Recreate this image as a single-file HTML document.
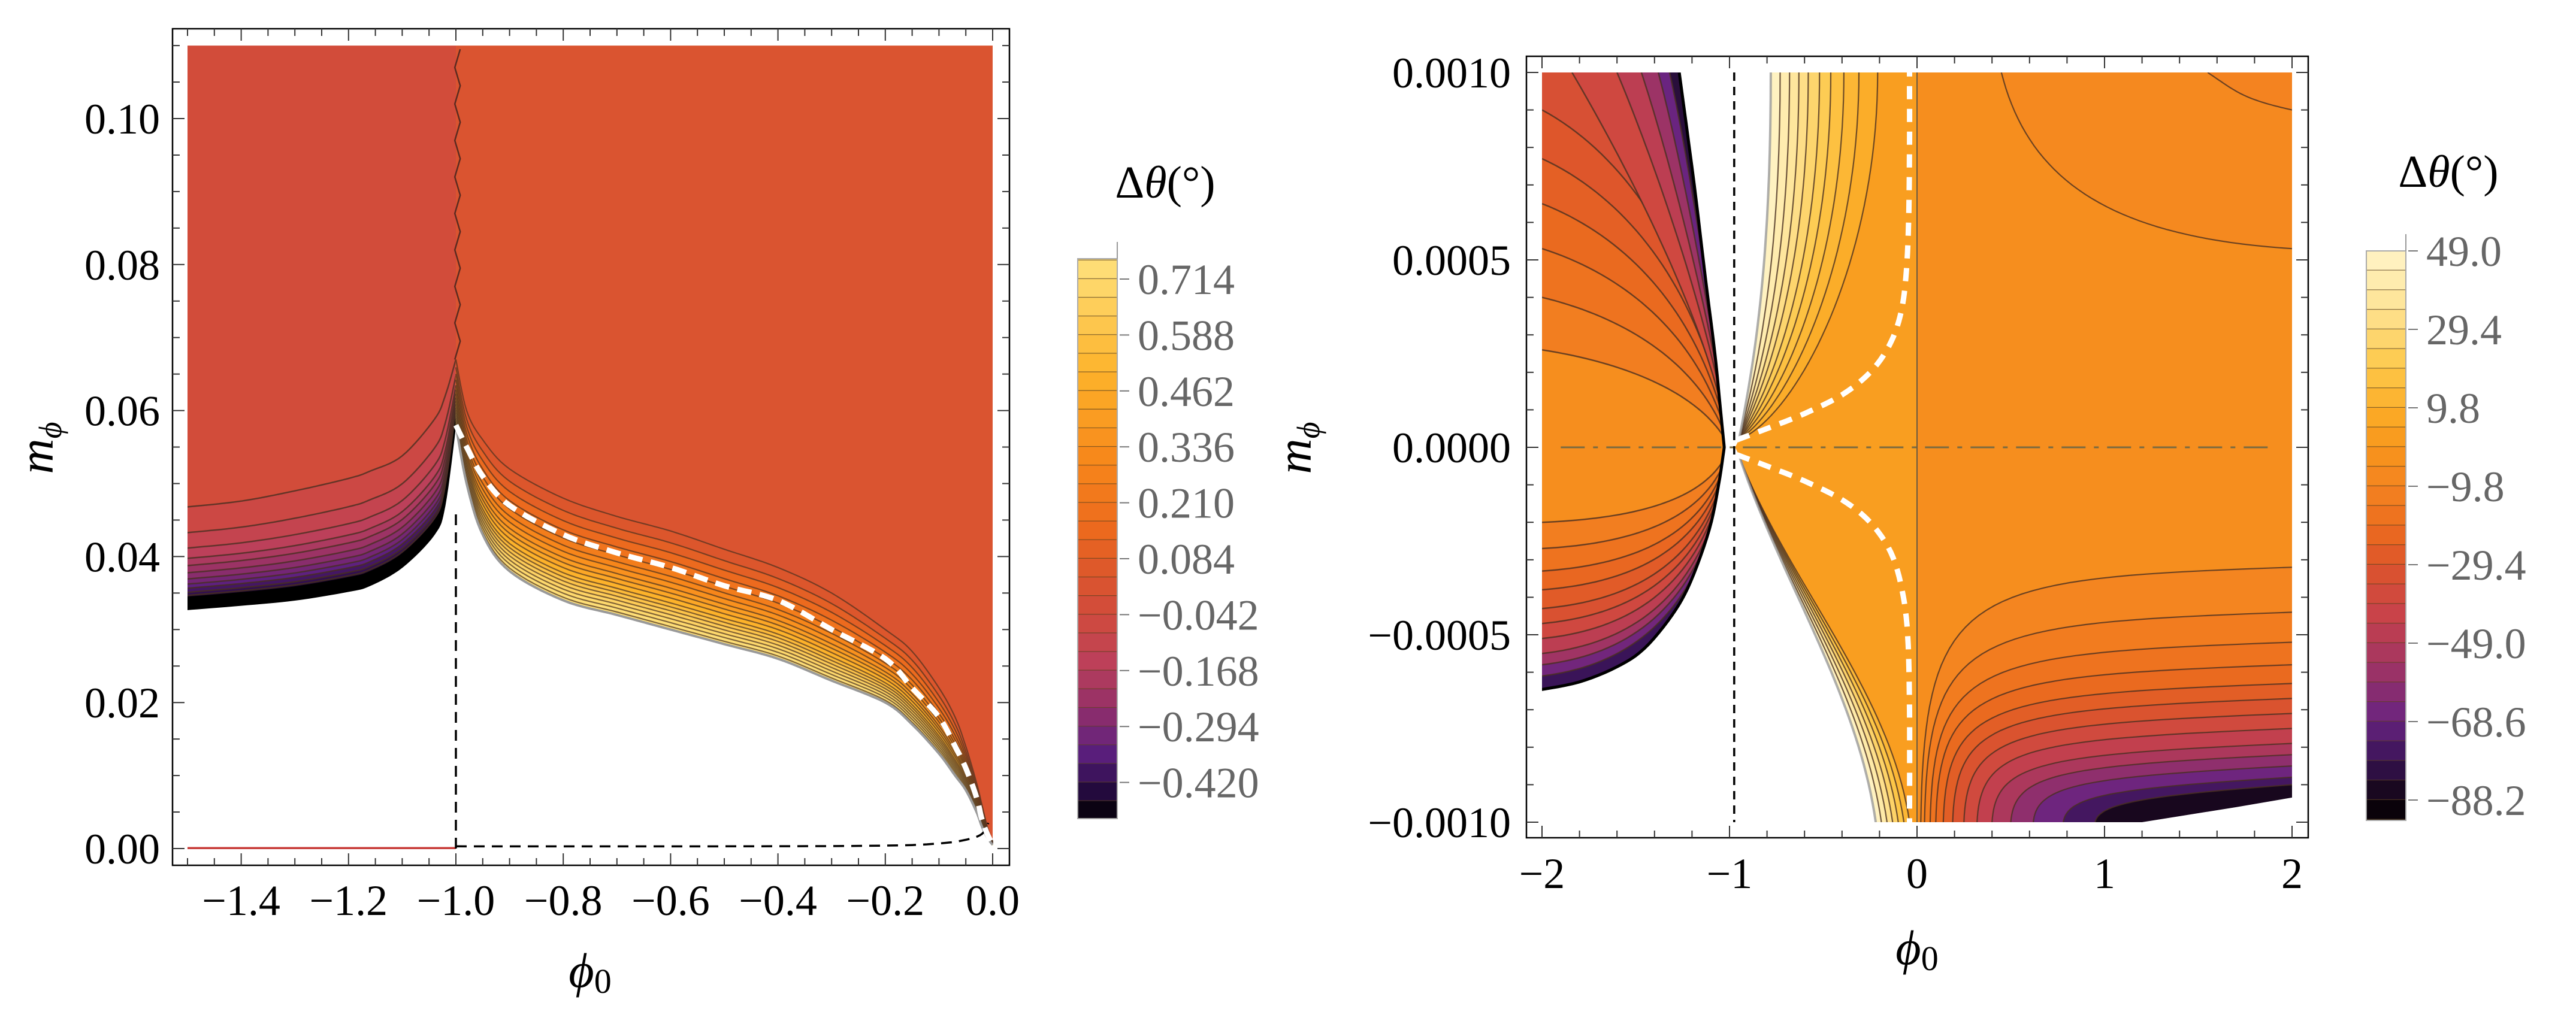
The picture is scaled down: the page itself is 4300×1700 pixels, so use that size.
<!DOCTYPE html>
<html>
<head>
<meta charset="utf-8">
<style>
html,body{margin:0;padding:0;background:#fff;}
svg{display:block;}
text{font-family:"Liberation Serif",serif;}
</style>
</head>
<body>
<svg id="chart" xmlns="http://www.w3.org/2000/svg" width="4300" height="1700" viewBox="0 0 4300 1700">
<defs>
<clipPath id="clipL"><rect x="313" y="76" width="1345" height="1342"/></clipPath>
<clipPath id="clipR"><rect x="2574" y="121" width="1252" height="1252"/></clipPath>
</defs>
</svg>
<script>
// ---------------- LEFT PANEL DATA ----------------
const L_leftX   = [-1.5,-1.4,-1.3,-1.2,-1.16,-1.1,-1.04,-1.02,-1.0];
const L_leftTop = [0.0468,0.0476,0.049,0.0507,0.0517,0.0538,0.0588,0.062,0.067];
const L_leftBot = [0.0327,0.0333,0.034,0.0352,0.036,0.0385,0.043,0.047,0.058];
const L_leftFrac = [0,0.25,0.40,0.50,0.57,0.64,0.70,0.75,0.79,0.83,0.86,0.875,1];
const L_leftVals = [-0.07,-0.11,-0.15,-0.19,-0.23,-0.27,-0.31,-0.35,-0.39,-0.42,-0.45,-0.6];
const L_rightX   = [-1.0,-0.98,-0.95,-0.9,-0.8,-0.7,-0.6,-0.5,-0.4,-0.3,-0.2,-0.15,-0.1,-0.07,-0.05,-0.03,-0.02,-0.01,0];
const L_rightTop = [0.067,0.060,0.056,0.052,0.048,0.0455,0.0435,0.041,0.0385,0.035,0.030,0.027,0.022,0.018,0.014,0.009,0.006,0.003,0.001];
const L_rightBot = [0.058,0.050,0.043,0.038,0.034,0.032,0.030,0.028,0.026,0.023,0.020,0.017,0.013,0.010,0.008,0.005,0.003,0.0015,0.0005];
const L_whiteDash= [0.058,0.055,0.051,0.047,0.043,0.0405,0.0385,0.036,0.034,0.030,0.026,0.022,0.018,0.014,0.011,0.007,0.004,0.002,0.0005];
const L_rightFrac = [0,0.12,0.22,0.31,0.39,0.46,0.52,0.58,0.63,0.68,0.73,0.77,0.81,0.85,0.89,0.93,0.97,1];
const L_rightVals = [0.05,0.10,0.15,0.20,0.25,0.30,0.35,0.40,0.45,0.50,0.55,0.60,0.64,0.68,0.71,0.74,0.76];
const L_bgLeftVal = -0.03, L_bgRightVal = 0.03;
const L_xTicks = [-1.4,-1.2,-1.0,-0.8,-0.6,-0.4,-0.2,0.0];
const L_xTickLabels = ["\u22121.4","\u22121.2","\u22121.0","\u22120.8","\u22120.6","\u22120.4","\u22120.2","0.0"];
const L_yTicks = [0,0.02,0.04,0.06,0.08,0.10];
const L_yTickLabels = ["0.00","0.02","0.04","0.06","0.08","0.10"];
const L_cbVals = [0.714,0.588,0.462,0.336,0.210,0.084,-0.042,-0.168,-0.294,-0.420];
const L_cbLabels = ["0.714","0.588","0.462","0.336","0.210","0.084","\u22120.042","\u22120.168","\u22120.294","\u22120.420"];

// ---------------- RIGHT PANEL DATA ----------------
const R_ulStartY = [0.00026,0.0004,0.00053,0.00065,0.00077,0.0009];
const R_ulStartTopX = [-1.84,-1.6,-1.47,-1.38,-1.32];
const R_ulVals = [-12,-17,-21,-25,-29,-33,-38,-46,-56,-68,-82];
const R_ulBoundX = [-1.26,-1.18,-1.12,-1.07,-1.04,-1.02];
const R_ulBoundY = [0.001,0.0007,0.00045,0.00025,0.0001,0.0];
const R_llStartY = [-0.0002,-0.00027,-0.00033,-0.00038,-0.00043,-0.00047,-0.00051,-0.00055,-0.00058,-0.00061];
const R_llVals = [-12,-17,-22,-27,-32,-38,-46,-55,-66,-78];
const R_llBoundX = [-2,-1.8,-1.6,-1.45,-1.3,-1.2,-1.1,-1.05,-1.02];
const R_llBoundY = [-0.00065,-0.00063,-0.00059,-0.00054,-0.00045,-0.00036,-0.00022,-0.0001,0.0];
const R_umEndX = [-0.78,-0.73,-0.68,-0.63,-0.58,-0.52,-0.46,-0.39,-0.31,-0.21];
const R_umVals = [47,42,37,32,27,22,17,13,9,6];
const R_lmEndX = [-0.22,-0.19,-0.16,-0.13,-0.10,-0.07,-0.04];
const R_lmVals = [47,40,33,26,19,13,8];
const R_lrStartX = [0.02,0.04,0.07,0.1,0.14,0.19,0.25,0.32,0.4,0.5,0.62,0.78,0.95];
const R_lrEndY = [-0.00032,-0.00044,-0.00052,-0.00058,-0.00063,-0.00067,-0.00071,-0.00075,-0.00079,-0.00082,-0.00085,-0.00088,-0.0009];
const R_lrVals = [-9,-13,-17,-21,-26,-31,-37,-44,-51,-59,-67,-76,-86];
const R_urStartX = [0.45,1.55];
const R_urEndY = [0.00053,0.0009];
const R_urVals = [-7,-10];
const R_bgMidVal = 3, R_bgRightVal = -4;
const R_dashUpX = [-0.96,-0.8,-0.6,-0.4,-0.25,-0.15,-0.09,-0.06,-0.045,-0.04,-0.04];
const R_dashUpY = [0.00002,0.00005,0.00009,0.00014,0.0002,0.00027,0.00035,0.00045,0.0006,0.0008,0.001];
const R_dashLoX = [-0.96,-0.8,-0.6,-0.4,-0.25,-0.14,-0.08,-0.05,-0.04,-0.04];
const R_dashLoY = [-0.00002,-0.00005,-0.00009,-0.00014,-0.0002,-0.00028,-0.00038,-0.0005,-0.0007,-0.001];
const R_xTicks = [-2,-1,0,1,2];
const R_xTickLabels = ["\u22122","\u22121","0","1","2"];
const R_yTicks = [-0.001,-0.0005,0,0.0005,0.001];
const R_yTickLabels = ["\u22120.0010","\u22120.0005","0.0000","0.0005","0.0010"];
const R_cbVals = [49.0,29.4,9.8,-9.8,-29.4,-49.0,-68.6,-88.2];
const R_cbLabels = ["49.0","29.4","9.8","\u22129.8","\u221229.4","\u221249.0","\u221268.6","\u221288.2"];

// ---------------- helpers ----------------
const NS = "http://www.w3.org/2000/svg";
const svg = document.getElementById('chart');
function add(tag, attrs, parent){
  const e = document.createElementNS(NS, tag);
  for (const k in attrs) e.setAttribute(k, attrs[k]);
  (parent || svg).appendChild(e);
  return e;
}
function hex2rgb(h){return [parseInt(h.slice(1,3),16),parseInt(h.slice(3,5),16),parseInt(h.slice(5,7),16)];}
function interpColor(stops, v){
  if (v >= stops[0][0]) return stops[0][1];
  for (let i=0;i<stops.length-1;i++){
    const a=stops[i], b=stops[i+1];
    if (v <= a[0] && v >= b[0]){
      const t=(a[0]-v)/(a[0]-b[0]);
      const ca=hex2rgb(a[1]), cb=hex2rgb(b[1]);
      return 'rgb('+ca.map((c,j)=>Math.round(c+(cb[j]-c)*t)).join(',')+')';
    }
  }
  return stops[stops.length-1][1];
}
const stopsL = [[0.75,'#fee07a'],[0.5,'#fdb22a'],[0.3,'#f7861a'],[0.15,'#ec6a1e'],[0.05,'#dc562c'],[-0.05,'#d04a3e'],[-0.15,'#bc405a'],[-0.25,'#943068'],[-0.35,'#5e2080'],[-0.43,'#2a0c48'],[-0.5,'#000000']];
const stopsR = [[49,'#fff4c8'],[35,'#fee496'],[20,'#fdc84a'],[8,'#fbaa26'],[0,'#f8961c'],[-10,'#f48320'],[-20,'#ec6c1e'],[-30,'#dc542c'],[-42,'#c8424a'],[-55,'#a03464'],[-68,'#6a2480'],[-78,'#3a1458'],[-88,'#100410'],[-95,'#000000']];
const cL = v => interpColor(stopsL, v);
const cR = v => interpColor(stopsR, v);

const lx = v => 1657 + v*896;
const ly = v => 1417 - v*12190;
const rx = v => 3200 + v*313;
const ry = v => 747 - v*626000;

function dPts(pts, sx, sy, close){
  let d = pts.map((p,i)=>(i?'L':'M')+sx(p[0]).toFixed(1)+' '+sy(p[1]).toFixed(1)).join(' ');
  return close ? d+' Z' : d;
}
function cubic(P0,P1,P2,P3,n){
  const out=[];
  for(let i=0;i<=n;i++){const t=i/n,u=1-t;
    out.push([u*u*u*P0[0]+3*u*u*t*P1[0]+3*u*t*t*P2[0]+t*t*t*P3[0],
              u*u*u*P0[1]+3*u*u*t*P1[1]+3*u*t*t*P2[1]+t*t*t*P3[1]]);}
  return out;
}
// Catmull-Rom smoothing of a polyline (data coords)
function smooth(pts, n){
  const out=[];
  for (let i=0;i<pts.length-1;i++){
    const p0=pts[Math.max(0,i-1)], p1=pts[i], p2=pts[i+1], p3=pts[Math.min(pts.length-1,i+2)];
    for (let j=0;j<n;j++){
      const t=j/n, t2=t*t, t3=t2*t;
      out.push([0,1].map(k=>0.5*((2*p1[k])+(-p0[k]+p2[k])*t+(2*p0[k]-5*p1[k]+4*p2[k]-p3[k])*t2+(-p0[k]+3*p1[k]-3*p2[k]+p3[k])*t3)));
    }
  }
  out.push(pts[pts.length-1]);
  return out;
}
function zipXY(xs, ys){return xs.map((x,i)=>[x,ys[i]]);}
const LINE = '#4a3020';

// ================= LEFT PANEL =================
const gL = add('g', {'clip-path':'url(#clipL)'});



{
  const pts = [[-1.5,0.11]].concat(smooth(zipXY(L_leftX, L_leftTop),8)).concat([[-1.0,0.11]]);
  const p = add('path', {d:dPts(pts,lx,ly,true), fill:cL(L_bgLeftVal)}, gL);
  
  
}
{
  const pts = [[-1.0,0.11]].concat(smooth(zipXY(L_rightX, L_rightTop),8)).concat([[0,0.11]]);
  const p = add('path', {d:dPts(pts,lx,ly,true), fill:cL(L_bgRightVal)}, gL);
  
  
}
function bandCurve(xs, top, bot, f){return smooth(xs.map((x,i)=>[x, top[i]+(bot[i]-top[i])*f]),8);}
for (let k=0;k<L_leftFrac.length-1;k++){
  const a = bandCurve(L_leftX, L_leftTop, L_leftBot, L_leftFrac[k]);
  const b = bandCurve(L_leftX, L_leftTop, L_leftBot, L_leftFrac[k+1]).reverse();
  const p = add('path', {d:dPts(a.concat(b),lx,ly,true), fill:cL(L_leftVals[k]), stroke:cL(L_leftVals[k]), 'stroke-width':1}, gL);
  
  
  if (k < L_leftFrac.length-2){
    const l = add('path', {d:dPts(a,lx,ly,false), fill:'none', stroke:LINE, 'stroke-width':2.5, 'stroke-opacity':0.8}, gL);
    
    
  }
}
for (let k=0;k<L_rightFrac.length-1;k++){
  const a = bandCurve(L_rightX, L_rightTop, L_rightBot, L_rightFrac[k]);
  const b = bandCurve(L_rightX, L_rightTop, L_rightBot, L_rightFrac[k+1]).reverse();
  const p = add('path', {d:dPts(a.concat(b),lx,ly,true), fill:cL(L_rightVals[k]), stroke:cL(L_rightVals[k]), 'stroke-width':1}, gL);
  
  
  const l = add('path', {d:dPts(a,lx,ly,false), fill:'none', stroke:LINE, 'stroke-width':2.2, 'stroke-opacity':0.7}, gL);
  
  
}
{
  const l = add('path', {d:dPts(smooth(zipXY(L_rightX,L_rightBot),8),lx,ly,false), fill:'none', stroke:'#9a9a9a', 'stroke-width':4}, gL);
  
  
}
{
  const pts=[]; let s=0;
  for (let y=0.067;y<=0.1105;y+=0.0025){ pts.push([-1.0 + (s%2?0.008:-0.002), y]); s++; }
  const l = add('path', {d:dPts(pts,lx,ly,false), fill:'none', stroke:'#5a2a20', 'stroke-width':2.5}, gL);
  
  
}
{
  const l = add('line', {x1:lx(-1.5), y1:ly(0), x2:lx(-1.0), y2:ly(0), stroke:'#c83c38', 'stroke-width':5}, gL);
  
  
}
{
  const pts=[[-1.0,0.0],[-1.0,0.046]];
  const l = add('path', {d:dPts(pts,lx,ly,false), fill:'none', stroke:'#000', 'stroke-width':3.5, 'stroke-dasharray':'18 12'}, gL);
  
  
  const pts2=smooth([[-1.0,0.0003],[-0.5,0.0003],[-0.2,0.0004],[-0.1,0.0007],[-0.05,0.0012],[-0.02,0.002],[-0.008,0.0035]],6);
  const l2 = add('path', {d:dPts(pts2,lx,ly,false), fill:'none', stroke:'#000', 'stroke-width':3.5, 'stroke-dasharray':'18 12'}, gL);
  
  
}
{
  const l = add('path', {d:dPts(smooth(zipXY(L_rightX,L_whiteDash),8),lx,ly,false), fill:'none', stroke:'#fff', 'stroke-width':9, 'stroke-dasharray':'24 14'}, gL);
  
  
}

function frame(x0,y0,x1,y1,name){
  const r = add('rect',{x:x0,y:y0,width:x1-x0,height:y1-y0,fill:'none',stroke:'#000','stroke-width':2.5});
  
  
}
frame(288,48,1685,1445,'left-plot-frame');
function tickLine(x1,y1,x2,y2,col){
  const t = add('line',{x1:x1,y1:y1,x2:x2,y2:y2,stroke:col||'#000','stroke-width':2});
  
  
}
for (let i=0;i<=30;i++){
  const v=-1.5+i*0.05, x=lx(v);
  const major = Math.abs(Math.round(v*10)/10 - v) < 1e-6 && Math.round(v*10)%2===0;
  const len = major?20:12;
  tickLine(x,1445,x,1445-len,'#333'); tickLine(x,48,x,48+len,'#333');
}
for (let i=0;i<=22;i++){
  const v=i*0.005, y=ly(v);
  const len = i%4===0?20:12;
  tickLine(288,y,288+len,y,'#333'); tickLine(1685,y,1685-len,y,'#333');
}
L_xTicks.forEach((v,i)=>{
  const t = add('text',{x:lx(v), y:1528, 'font-size':72, 'text-anchor':'middle', fill:'#000'});
  t.textContent = L_xTickLabels[i];
  
  
});
L_yTicks.forEach((v,i)=>{
  const t = add('text',{x:267, y:ly(v)+25, 'font-size':72, 'text-anchor':'end', fill:'#000'});
  t.textContent = L_yTickLabels[i];
  
  
});

// ================= RIGHT PANEL =================
const gR = add('g', {'clip-path':'url(#clipR)'});


{
  const r = add('rect',{x:rx(-2),y:ry(0.001),width:rx(2)-rx(-2),height:ry(-0.001)-ry(0.001),fill:cR(R_bgRightVal)},gR);
  
  
  const r2 = add('rect',{x:rx(-1),y:ry(0.001),width:rx(0)-rx(-1),height:ry(-0.001)-ry(0.001),fill:cR(R_bgMidVal)},gR);
  
  
}
const E = [-1.0, 0.0];
function strokeCurve(pts, col, w, name){
  const l = add('path',{d:dPts(pts,rx,ry,false),fill:'none',stroke:col,'stroke-width':w,'stroke-opacity':0.8},gR);
  
  
}
{
  const ulBound = smooth(zipXY(R_ulBoundX, R_ulBoundY),6);
  const starts = R_ulStartY.map(y=>[-2,y]).concat(R_ulStartTopX.map(x=>[x,0.001]));
  starts.forEach((S,k)=>{
    let curve;
    if (S[0]===-2) curve = cubic(S,[-1.5,S[1]*0.85],[-1.12,S[1]*0.5],E,40);
    else curve = cubic(S,[S[0]+(-1-S[0])*0.35,0.00075],[-1.08,0.0003],E,40);
    let poly = curve.concat(ulBound.slice().reverse());
    if (S[0]===-2) poly = poly.concat([[-2,0.001]]);
    const p = add('path',{d:dPts(poly,rx,ry,true),fill:cR(R_ulVals[k])},gR);
    
    
    strokeCurve(curve, LINE, 2.5, 'upper-left-contour');
  });
}
{
  const llBound = smooth(zipXY(R_llBoundX, R_llBoundY),6);
  R_llStartY.forEach((y0,k)=>{
    const S=[-2,y0];
    const curve = cubic(S,[-1.5,y0*0.95],[-1.1,y0*0.7],E,40);
    const poly = curve.concat(llBound.slice().reverse());
    const p = add('path',{d:dPts(poly,rx,ry,true),fill:cR(R_llVals[k])},gR);
    
    
    strokeCurve(curve, LINE, 2.5, 'lower-left-contour');
  });
  const lb = add('path',{d:dPts(llBound,rx,ry,false),fill:'none',stroke:'#000','stroke-width':10},gR);
  
  
  const ub = add('path',{d:dPts(smooth(zipXY(R_ulBoundX,R_ulBoundY),6),rx,ry,false),fill:'none',stroke:'#000','stroke-width':10},gR);
  
  
}
function umCurve(xk){return cubic([-0.95,0.00002],[-0.95+(xk+1)*0.4,0.0003*(1-(xk+1)*0.9)],[xk,0.0005],[xk,0.001],40);}
for (let k=R_umEndX.length-1;k>=1;k--){
  const c = umCurve(R_umEndX[k]);
  const b = umCurve(R_umEndX[0]).reverse();
  const p = add('path',{d:dPts(c.concat(b),rx,ry,true),fill:cR(R_umVals[k-1])},gR);
  
  
  strokeCurve(c, LINE, 2.2, 'upper-middle-contour');
}
function lmCurve(xk){return cubic([-0.95,-0.00002],[-0.85+(xk+1)*0.15,-0.00035],[xk-0.1,-0.00065],[xk,-0.001],40);}
for (let k=R_lmEndX.length-1;k>=1;k--){
  const c = lmCurve(R_lmEndX[k]);
  const b = lmCurve(R_lmEndX[0]).reverse();
  const p = add('path',{d:dPts(c.concat(b),rx,ry,true),fill:cR(R_lmVals[k-1])},gR);
  
  
  strokeCurve(c, LINE, 2.2, 'lower-middle-contour');
}
{
  const up = smooth(zipXY(R_ulBoundX,R_ulBoundY),6).concat([[-0.97,0.0],[-0.95,0.00002]]).concat(umCurve(R_umEndX[0]));
  const p = add('path',{d:dPts(up,rx,ry,true),fill:'#fff'},gR);
  
  
  const lo = smooth(zipXY(R_llBoundX,R_llBoundY),6).concat([[-0.97,0.0]]).concat(lmCurve(R_lmEndX[0])).concat([[-2,-0.001]]);
  const p2 = add('path',{d:dPts(lo,rx,ry,true),fill:'#fff'},gR);
  
  
  strokeCurve(umCurve(R_umEndX[0]), '#9a9a9a', 4, 'upper-middle-boundary');
  strokeCurve(lmCurve(R_lmEndX[0]), '#9a9a9a', 4, 'lower-middle-boundary');
}
R_urStartX.forEach((xs,k)=>{
  const yE = R_urEndY[k];
  const c = cubic([xs,0.001],[xs+0.15,Math.max(0.0007,yE+0.00005)],[xs+(2-xs)*0.4,yE+0.00003],[2.0,yE],40);
  const poly = c.concat([[2.0,0.001]]);
  const p = add('path',{d:dPts(poly,rx,ry,true),fill:cR(R_urVals[k])},gR);
  
  
  strokeCurve(c, LINE, 2.2, 'upper-right-contour');
});
R_lrStartX.forEach((xs,k)=>{
  const yR = R_lrEndY[k];
  const c = cubic([xs,-0.001],[xs+0.02,yR-0.00005],[xs+0.25,yR-0.00003],[2.0,yR],40);
  const poly = c.concat([[2.0,-0.001]]);
  const p = add('path',{d:dPts(poly,rx,ry,true),fill:cR(R_lrVals[k])},gR);
  
  
  strokeCurve(c, LINE, 2.2, 'lower-right-contour');
});
{
  const w = [[1.05,-0.00101],[1.2,-0.001],[1.45,-0.00098],[1.7,-0.00096],[2.05,-0.00093],[2.05,-0.0011]];
  const p = add('path',{d:dPts(w,rx,ry,true),fill:'#fff'},gR);
  
  
}
{
  const v = add('line',{x1:rx(0),y1:ry(0.001),x2:rx(0),y2:ry(-0.001),stroke:'#6a5a40','stroke-width':2},gR);
  
  
  const h = add('line',{x1:rx(-1.9),y1:ry(0),x2:rx(1.88),y2:ry(0),stroke:'#7a6a40','stroke-width':3,'stroke-dasharray':'40 14 8 14'},gR);
  
  
  const bd = add('line',{x1:rx(-0.975),y1:ry(0.001),x2:rx(-0.975),y2:ry(-0.001),stroke:'#000','stroke-width':3.5,'stroke-dasharray':'14 10'},gR);
  
  
  const wu = add('path',{d:dPts(smooth(zipXY(R_dashUpX,R_dashUpY),6),rx,ry,false),fill:'none',stroke:'#fff','stroke-width':9,'stroke-dasharray':'22 16'},gR);
  
  
  const wl = add('path',{d:dPts(smooth(zipXY(R_dashLoX,R_dashLoY),6),rx,ry,false),fill:'none',stroke:'#fff','stroke-width':9,'stroke-dasharray':'22 16'},gR);
  
  
}
frame(2548,94,3853,1399,'right-plot-frame');
for (let i=0;i<=20;i++){
  const v=-2+i*0.2, x=rx(v); const len = i%5===0?20:12;
  tickLine(x,1399,x,1399-len,'#333'); tickLine(x,94,x,94+len,'#333');
}
for (let i=0;i<=20;i++){
  const v=-0.001+i*0.0001, y=ry(v); const len = i%5===0?20:12;
  tickLine(2548,y,2548+len,y,'#333'); tickLine(3853,y,3853-len,y,'#333');
}
R_xTicks.forEach((v,i)=>{
  const t = add('text',{x:rx(v), y:1483, 'font-size':72, 'text-anchor':'middle', fill:'#000'});
  t.textContent = R_xTickLabels[i];
  
  
});
R_yTicks.forEach((v,i)=>{
  const t = add('text',{x:2522, y:ry(v)+25, 'font-size':72, 'text-anchor':'end', fill:'#000'});
  t.textContent = R_yTickLabels[i];
  
  
});

// ================= COLORBARS =================
function colorbar(x0, x1, top, bottom, firstTickY, step, vals, labels, bandPerLabel, colorFn, name){
  const bandH = step/bandPerLabel;
  const dv = (vals[0]-vals[1])/bandPerLabel;
  const g = add('g',{});
  
  
  let y = top, i = 0;
  const v0 = vals[0] + dv*((firstTickY-top)/bandH);
  while (y < bottom-0.5){
    const y2 = Math.min(bottom, firstTickY + (Math.floor((y-firstTickY)/bandH+1e-6)+1)*bandH);
    const vMid = v0 - dv*((y+y2)/2-top)/bandH;
    const r = add('rect',{x:x0,y:y,width:x1-x0,height:y2-y+0.5,fill:colorFn(vMid)},g);
    
    
    if (y2 < bottom-1){
      const l = add('line',{x1:x0,y1:y2,x2:x1,y2:y2,stroke:'#5a4020','stroke-width':2.5,'stroke-opacity':0.7},g);
      
      
    }
    y = y2; i++; if (i>200) break;
  }
  const o = add('rect',{x:x0,y:top,width:x1-x0,height:bottom-top,fill:'none',stroke:'#aaa','stroke-width':2},g);
  
  
  const vl = add('line',{x1:x1,y1:top-28,x2:x1,y2:top,stroke:'#999','stroke-width':2},g);
  
  
  vals.forEach((v,k)=>{
    const ty = firstTickY + k*step;
    const tk = add('line',{x1:x1+4,y1:ty,x2:x1+20,y2:ty,stroke:'#777','stroke-width':2},g);
    
    
    const t = add('text',{x:x1+34, y:ty+25, 'font-size':72, fill:'#666'},g);
    t.textContent = labels[k];
    
    
  });
}
colorbar(1799,1865,432,1367,466,93.4,L_cbVals,L_cbLabels,3,cL,'left-colorbar');
colorbar(3950,4016,419,1370,419,131,R_cbVals,R_cbLabels,4,cR,'right-colorbar');

// ================= TITLES =================
function cbTitle(cx, by, name){
  const t = add('text',{x:cx, y:by, 'font-size':76, 'text-anchor':'middle', fill:'#000'});
  
  
  const a = add('tspan',{},t); a.textContent='\u0394';
  const b = add('tspan',{'font-style':'italic'},t); b.textContent='\u03B8';
  const c = add('tspan',{},t); c.textContent='(\u00B0)';
}
cbTitle(1945,330,'left-colorbar-title');
cbTitle(4087,312,'right-colorbar-title');

function xTitle(cx, by, name){
  const t = add('text',{x:cx, y:by, 'font-size':82, 'text-anchor':'middle', fill:'#000'});
  
  
  const a = add('tspan',{'font-style':'italic'},t); a.textContent='\u03D5';
  const b = add('tspan',{'font-size':58, dy:10},t); b.textContent='0';
}
xTitle(985,1648,'left-x-axis-title');
xTitle(3200,1610,'right-x-axis-title');

function yTitle(cx, cy, name){
  const t = add('text',{x:0, y:0, 'font-size':82, 'text-anchor':'middle', fill:'#000', transform:'translate('+(cx+26)+','+cy+') rotate(-90)'});
  
  
  const a = add('tspan',{'font-style':'italic'},t); a.textContent='m';
  const b = add('tspan',{'font-size':54, 'font-style':'italic', dy:14},t); b.textContent='\u03D5';
}
yTitle(62,748,'left-y-axis-title');
yTitle(2162,748,'right-y-axis-title');
</script>
</body>
</html>
